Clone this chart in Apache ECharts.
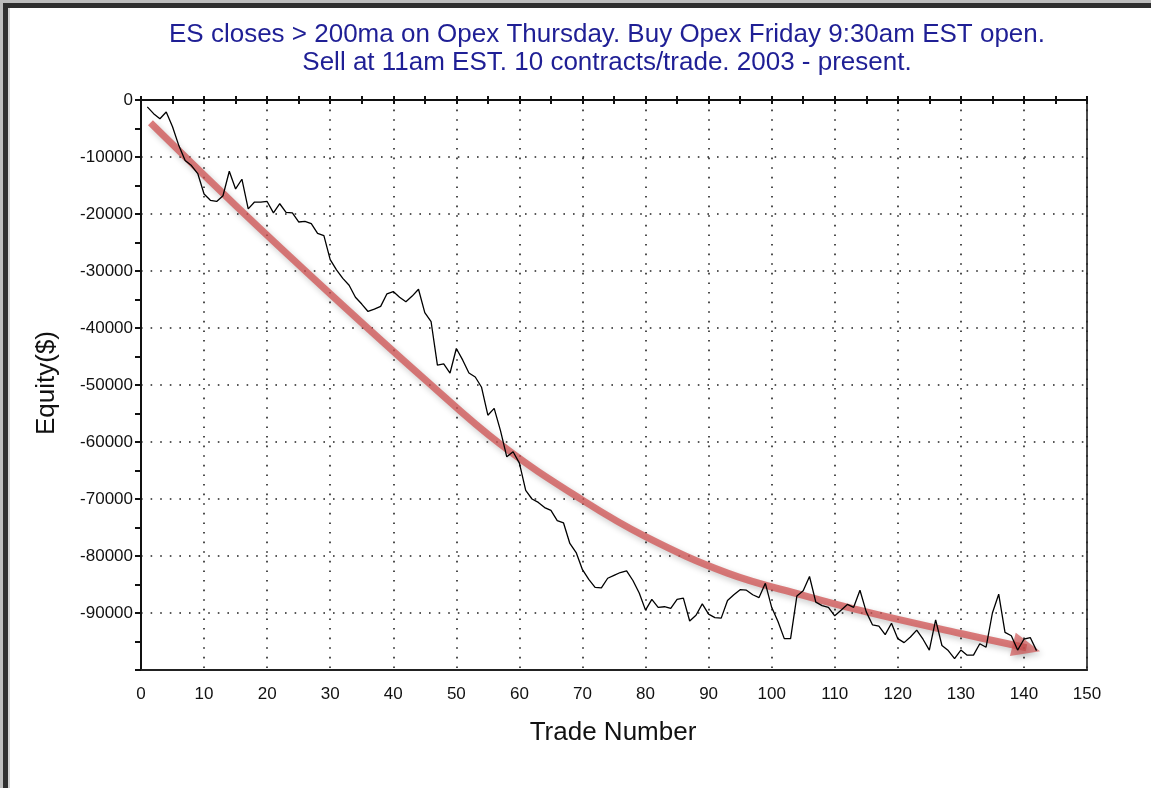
<!DOCTYPE html>
<html>
<head>
<meta charset="utf-8">
<script src="https://cdn.jsdelivr.net/npm/echarts@6/dist/echarts.min.js"></script>
<style>
  html, body { margin: 0; padding: 0; background: #fff; }
  #equityChart { width: 1151px; height: 788px; }
</style>
</head>
<body>
<div id="equityChart"></div>
<script>
// equity after each trade, trade 1 .. 142
const equity = [
  -1200, -2400, -3300, -2100, -4700, -8000, -10600, -11500, -12900, -16500,
  -17600, -17800, -16800, -12500, -15600, -13900, -19100, -17900, -17900, -17800,
  -19800, -18200, -19700, -19800, -21400, -21300, -21700, -23400, -23800, -28000,
  -29800, -31300, -32500, -34600, -35800, -37100, -36700, -36200, -34000, -33600,
  -34600, -35400, -34400, -33200, -37300, -38900, -46500, -46300, -47900, -43600,
  -45600, -47900, -48600, -50400, -55300, -54100, -58000, -62600, -61700, -63700,
  -68500, -70000, -70600, -71500, -72000, -73800, -74200, -77800, -79400, -82400,
  -84100, -85500, -85600, -83900, -83400, -82900, -82600, -84300, -86500, -89500,
  -87600, -89000, -88900, -89200, -87600, -87400, -91400, -90400, -88400, -90200,
  -90800, -90900, -87800, -86800, -85900, -86000, -86800, -87300, -84800, -89000,
  -91500, -94500, -94500, -87000, -86100, -83600, -88100, -88700, -89000, -90500,
  -89500, -88500, -89000, -86000, -89800, -92100, -92300, -93800, -91800, -94500,
  -95200, -94200, -93000, -94600, -96500, -91200, -95700, -96600, -98000, -96500,
  -97400, -97400, -95400, -96000, -90000, -86700, -93400, -94000, -96500, -94600,
  -94300, -96600
]

// hand-drawn trend arrow (trade number, equity)
const trendPoints = [
  [1.5, -4000], [15, -18500], [30, -34000], [45, -49000], [57, -60400],
  [70, -70200], [80, -76600], [93, -83000], [105, -86900], [115, -89800],
  [130, -93600], [140.4, -96100]
]

const titleLines = [
  'ES closes > 200ma on Opex Thursday. Buy Opex Friday 9:30am EST open.',
  'Sell at 11am EST. 10 contracts/trade. 2003 - present.'
]

const equityData = equity.map((v, i) => [i + 1, v])
const arrowTip = trendPoints[trendPoints.length - 1]

const fontFamily = '"Liberation Sans", Arial, sans-serif'
const dotted = { show: true, lineStyle: { color: '#222', width: 1.6, type: [1.6, 8] } }

const chartDom = document.getElementById('equityChart')
const chartInstance = echarts.init(chartDom)
chartInstance.setOption({
  animation: false,
  backgroundColor: '#fff',
  textStyle: { fontFamily },
  grid: {
    left: 141,
    right: 64,
    top: 100,
    bottom: 118,
    show: true,
    borderColor: '#111',
    borderWidth: 1.5
  },
  graphic: [
    { type: 'rect', shape: { x: 0, y: 0, width: 1151, height: 3 }, style: { fill: '#bdbdbd' } },
    { type: 'rect', shape: { x: 0, y: 3, width: 1151, height: 5 }, style: { fill: '#2f2f2f' } },
    { type: 'rect', shape: { x: 0, y: 0, width: 3, height: 788 }, style: { fill: '#bdbdbd' } },
    { type: 'rect', shape: { x: 3, y: 3, width: 5, height: 785 }, style: { fill: '#2f2f2f' } },
    { type: 'rect', shape: { x: 8, y: 8, width: 2, height: 780 }, style: { fill: '#d4d4d4' } },
    {
      type: 'text', x: 607, y: 35,
      style: { text: titleLines[0], fill: '#1f1f95', font: '26px ' + fontFamily, textAlign: 'center', textVerticalAlign: 'middle' }
    },
    {
      type: 'text', x: 607, y: 63,
      style: { text: titleLines[1], fill: '#1f1f95', font: '26px ' + fontFamily, textAlign: 'center', textVerticalAlign: 'middle' }
    },
    {
      type: 'text', x: 47, y: 383, rotation: Math.PI / 2,
      style: { text: 'Equity($)', fill: '#111', font: '26px ' + fontFamily, textAlign: 'center', textVerticalAlign: 'middle' }
    },
    {
      type: 'text', x: 613, y: 733,
      style: { text: 'Trade Number', fill: '#111', font: '26px ' + fontFamily, textAlign: 'center', textVerticalAlign: 'middle' }
    }
  ],
  xAxis: [
    {
      type: 'value',
      min: 0,
      max: 150,
      interval: 10,
      axisLine: { show: true, onZero: false, lineStyle: { color: '#222', width: 2 } },
      axisTick: { show: false },
      axisLabel: { color: '#111', fontSize: 17, margin: 16 },
      splitLine: dotted
    },
    {
      type: 'value',
      position: 'top',
      min: 0,
      max: 150,
      interval: 5,
      axisLine: { show: true, onZero: false, lineStyle: { color: '#111', width: 2 } },
      axisTick: { show: true, inside: true, length: 4, lineStyle: { color: '#111', width: 2 } },
      axisLabel: { show: false },
      splitLine: { show: false }
    },
    {
      type: 'value',
      position: 'top',
      min: 0,
      max: 150,
      interval: 5,
      axisLine: { show: false },
      axisTick: { show: true, length: 4, lineStyle: { color: '#111', width: 2 } },
      axisLabel: { show: false },
      splitLine: { show: false }
    }
  ],
  yAxis: [
    {
      type: 'value',
      min: -100000,
      max: 0,
      interval: 10000,
      axisLine: { show: true, onZero: false, lineStyle: { color: '#111', width: 2 } },
      axisTick: { show: true, length: 5, lineStyle: { color: '#111', width: 2 } },
      minorTick: { show: true, splitNumber: 2, length: 5, lineStyle: { color: '#111', width: 2 } },
      axisLabel: {
        color: '#111',
        fontSize: 17,
        margin: 8,
        showMinLabel: false,
        formatter: (v) => String(v)
      },
      splitLine: dotted
    },
    {
      type: 'value',
      min: -100000,
      max: 0,
      interval: 10000,
      axisLine: { show: false },
      axisTick: { show: true, inside: true, length: 6, lineStyle: { color: '#111', width: 2 } },
      minorTick: { show: true, splitNumber: 2, length: 6, lineStyle: { color: '#111', width: 2 } },
      axisLabel: { show: false },
      splitLine: { show: false }
    }
  ],
  series: [
    {
      name: 'Trend',
      type: 'line',
      data: trendPoints,
      smooth: 0.4,
      symbol: 'none',
      z: 3,
      lineStyle: {
        color: 'rgba(208, 82, 82, 0.75)',
        width: 7,
        shadowColor: 'rgba(0, 0, 0, 0.28)',
        shadowBlur: 6,
        shadowOffsetX: 2,
        shadowOffsetY: 3
      }
    },
    {
      name: 'Arrow',
      type: 'scatter',
      data: [arrowTip],
      symbol: 'triangle',
      symbolSize: [24, 28],
      symbolRotate: -104,
      z: 3,
      itemStyle: {
        color: 'rgba(208, 82, 82, 0.85)',
        shadowColor: 'rgba(0, 0, 0, 0.28)',
        shadowBlur: 6,
        shadowOffsetX: 2,
        shadowOffsetY: 3
      }
    },
    {
      name: 'Equity',
      type: 'line',
      data: equityData,
      symbol: 'none',
      z: 4,
      lineStyle: { color: '#000', width: 1.3 }
    }
  ]
})
</script>
</body>
</html>
